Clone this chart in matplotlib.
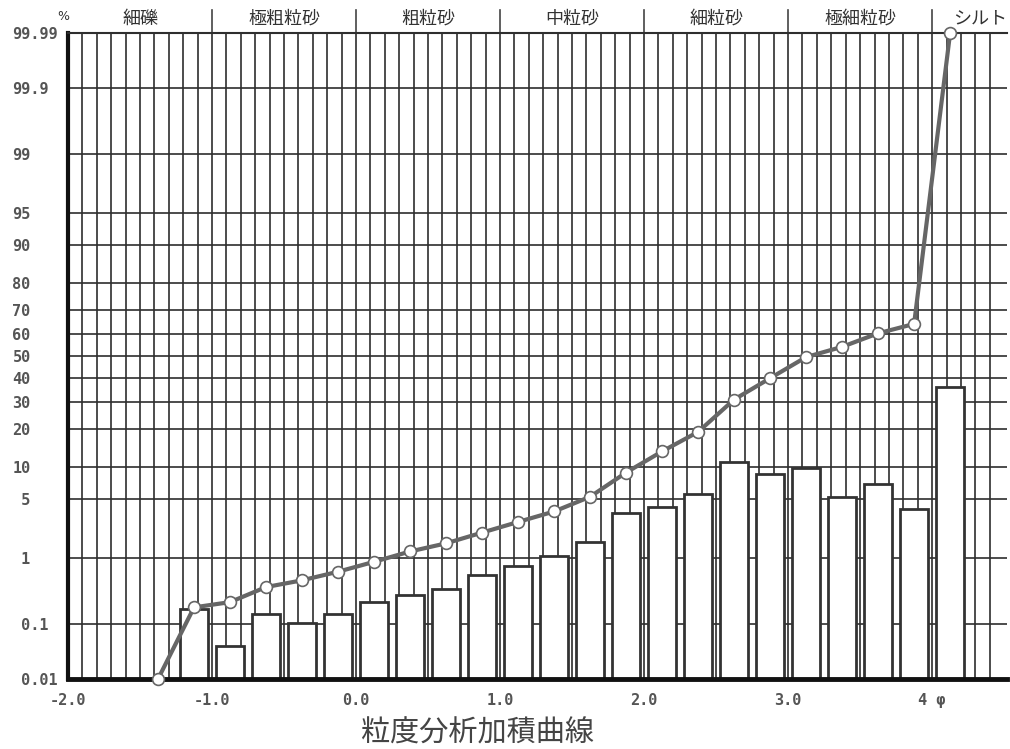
import numpy as np
import matplotlib
matplotlib.use('Agg')
import matplotlib.pyplot as plt
from statistics import NormalDist

# histogram (frequency %) at bin centres, phi
phi_bar = [-1.125, -0.875, -0.625, -0.375, -0.125, 0.125, 0.375, 0.625, 0.875, 1.125, 1.375,
           1.625, 1.875, 2.125, 2.375, 2.625, 2.875, 3.125, 3.375, 3.625, 3.875, 4.125]
freq = [0.18, 0.042, 0.146, 0.105, 0.146, 0.23, 0.30, 0.36, 0.58, 0.78, 1.07,
        1.6, 3.5, 4.15, 5.66, 11.2, 8.8, 9.8, 5.25, 7.0, 3.86, 35.9]

# cumulative curve (%)
phi_cum = [-1.375, -1.125, -0.875, -0.625, -0.375, -0.125, 0.125, 0.375, 0.625, 0.875, 1.125, 1.375,
           1.625, 1.875, 2.125, 2.375, 2.625, 2.875, 3.125, 3.375, 3.625, 3.875, 4.125]
cum = [0.01, 0.19, 0.23, 0.39, 0.49, 0.65, 0.89, 1.22, 1.55, 2.1, 2.8, 3.67,
       5.25, 8.98, 13.6, 19.1, 30.8, 39.9, 49.5, 54.2, 60.3, 64.4, 99.99]

p_ticks = [0.01, 0.1, 1, 5, 10, 20, 30, 40, 50, 60, 70, 80, 90, 95, 99, 99.9, 99.99]
p_labels = [' 0.01', ' 0.1', ' 1', ' 5', '10', '20', '30', '40', '50', '60', '70', '80',
            '90', '95', '99', '99.9', '99.99']
phi_major = [-2, -1, 0, 1, 2, 3, 4]
phi_labels = ['-2.0', '-1.0', '0.0', '1.0', '2.0', '3.0', '4 φ']

classes = ['細礫', '極粗粒砂', '粗粒砂', '中粒砂', '細粒砂', '極細粒砂', 'シルト']
class_edges = [-2, -1, 0, 1, 2, 3, 4, 4.66]

nd = NormalDist()


def fwd(p):
    p = np.clip(np.asarray(p, dtype=float), 1e-7, 100 - 1e-7)
    return np.vectorize(lambda v: nd.inv_cdf(v / 100), otypes=[float])(p)


def inv(z):
    return np.vectorize(lambda v: nd.cdf(v) * 100, otypes=[float])(np.asarray(z, dtype=float))


fig = plt.figure(figsize=(10.1, 7.49), dpi=100)
ax = fig.add_axes([68 / 1010, 1 - 679 / 749, (1007 - 68) / 1010, (679 - 33) / 749])
ax.set_yscale('function', functions=(fwd, inv))
ax.set_ylim(0.01, 99.99)
ax.set_xlim(-2.0, 4.52)

gc = '#2e2e2e'
ax.bar(phi_bar, freq, width=0.19, color='white', edgecolor='#333333', linewidth=2.0, zorder=2)
ax.plot(phi_cum, cum, '-o', color='#666666', lw=3, ms=8.5, mfc='white', mec='#666666',
        mew=1.2, zorder=5, clip_on=False)

ax.set_xticks(phi_major, labels=phi_labels)
ax.set_xticks(np.arange(-19, 45) / 10, minor=True)
ax.set_yticks(p_ticks, labels=p_labels)
ax.set_yticks([], minor=True)
ax.set_axisbelow(True)
ax.grid(True, axis='x', which='both', color=gc, lw=1.2)
ax.grid(True, axis='y', which='major', color=gc, lw=1.2)
ax.tick_params(which='both', length=0)
ax.tick_params(axis='x', pad=10)
ax.tick_params(axis='y', pad=40)

for lbl in ax.get_xticklabels() + ax.get_yticklabels():
    lbl.set_family(['DejaVu Sans Mono'])
    lbl.set_fontsize(11)
    lbl.set_fontweight('bold')
    lbl.set_color('#555555')
for lbl in ax.get_yticklabels():
    lbl.set_horizontalalignment('left')

ax.spines['left'].set_linewidth(3)
ax.spines['bottom'].set_linewidth(3.5)
ax.spines['left'].set_color('#111111')
ax.spines['bottom'].set_color('#111111')
ax.spines['top'].set_linewidth(1.5)
ax.spines['top'].set_color(gc)
ax.spines['right'].set_visible(False)

# soil class bands along the top
xt = ax.get_xaxis_transform()
for b in class_edges[1:-1]:
    ax.plot([b, b], [1, 1.036], transform=xt, clip_on=False, color='#444444', lw=1.2)
for name, a, b in zip(classes, class_edges[:-1], class_edges[1:]):
    ax.text((a + b) / 2, 1.022, name, transform=xt, ha='center', va='center',
            fontsize=13, family=['Noto Sans CJK JP'], color='#333333')

fig.text(63 / 1010, 1 - 17 / 749, '%', fontsize=9, ha='center', va='center', color='#333333')
fig.text(478 / 1010, 1 - 734 / 749, '粒度分析加積曲線', fontsize=21, ha='center', va='center',
         family=['Noto Sans CJK JP'], color='#444444')

fig.savefig('out.png', dpi=100)
